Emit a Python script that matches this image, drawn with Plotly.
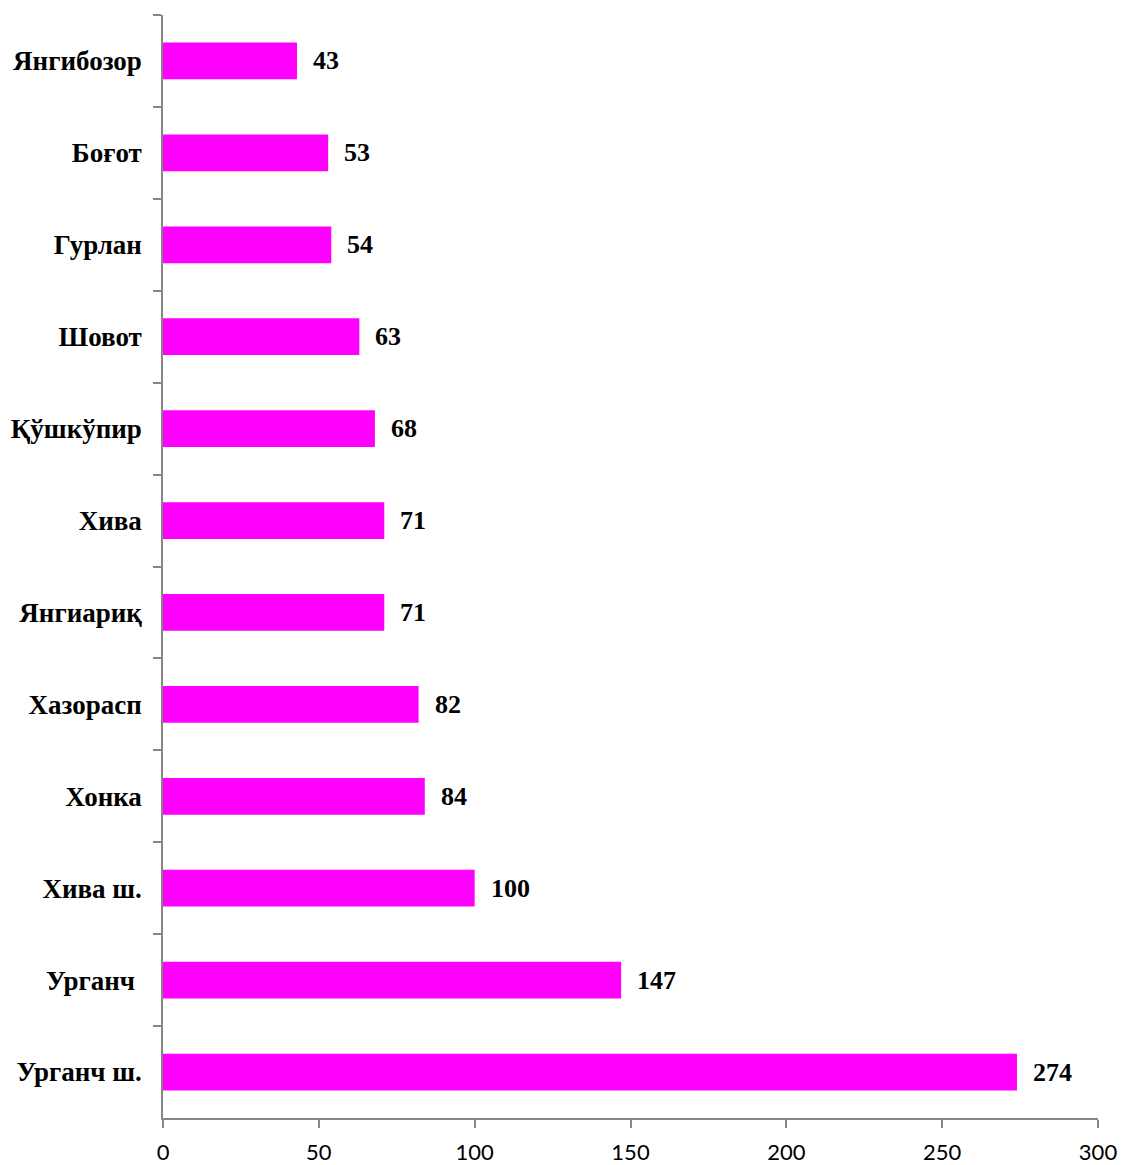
import plotly.graph_objects as go

categories = ["Янгибозор", "Боғот", "Гурлан", "Шовот", "Қўшкўпир", "Хива",
              "Янгиариқ", "Хазорасп", "Хонка", "Хива ш.", "Урганч\u00a0", "Урганч ш."]
values = [43, 53, 54, 63, 68, 71, 71, 82, 84, 100, 147, 274]
x_ticks = [0, 50, 100, 150, 200, 250, 300]

fig = go.Figure()
fig.add_trace(go.Bar(
    x=values, y=categories, orientation="h",
    marker=dict(color="#FF00FF", line=dict(width=0)),
    width=0.4,
    hoverinfo="x+y",
))

for c, v in zip(categories, values):
    fig.add_annotation(x=v, y=c, text=f"<b>{v}</b>", showarrow=False,
                       xanchor="left", yanchor="middle", xshift=14,
                       font=dict(family="Liberation Serif", size=26, color="black"))

fig.update_layout(
    width=1121, height=1165,
    margin=dict(l=163, r=23, t=15, b=47),
    paper_bgcolor="white", plot_bgcolor="white",
    showlegend=False,
    bargap=0.6,
)
fig.update_xaxes(
    range=[0, 300], tickvals=x_ticks, ticktext=[str(t) for t in x_ticks],
    showgrid=False, zeroline=False, automargin=False,
    showline=True, linecolor="#868686", linewidth=1.5,
    ticks="outside", ticklen=8, tickcolor="#868686", tickwidth=1.5,
    ticklabelstandoff=6,
    tickfont=dict(family="Lato", size=22, color="black"),
)
fig.update_yaxes(
    autorange="reversed",
    showgrid=False, zeroline=False, automargin=False,
    showline=True, linecolor="#868686", linewidth=1.5,
    ticks="outside", ticklen=8, tickcolor="#868686", tickwidth=1.5,
    tickson="boundaries",
    ticklabelstandoff=14,
    tickfont=dict(family="Liberation Serif", size=27, color="black"),
    tickprefix="<b>", ticksuffix="</b>",
)

fig.write_html(
    "out.html",
    config={"displayModeBar": False},
    post_script="document.body.style.margin='0px';document.body.style.overflow='hidden';",
)
